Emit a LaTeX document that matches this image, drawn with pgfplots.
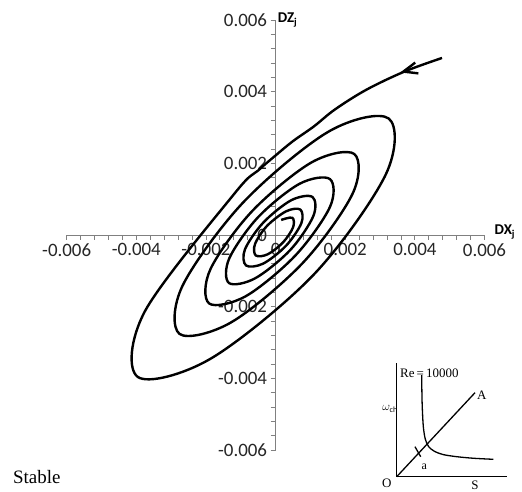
\documentclass[border=0pt]{standalone}
\usepackage{pgfplots}
\pgfplotsset{compat=1.18}
\usepackage{fontspec}
\setmainfont{Carlito}
\newfontfamily\serif{Liberation Serif}
\begin{document}
\begin{tikzpicture}[x=1bp,y=1bp]
\useasboundingbox (0,0) rectangle (522,492);
\begin{axis}[
  at={(66.7bp,42bp)}, anchor=south west,
  scale only axis, width=417.8bp, height=430bp,
  xmin=-0.006, xmax=0.006, ymin=-0.006, ymax=0.006,
  axis lines=middle,
  axis line style={-, draw=black!50, line width=0.8bp},
  xtick={-0.006,-0.004,-0.002,0,0.002,0.004,0.006},
  ytick={-0.006,-0.004,-0.002,0,0.002,0.004,0.006},
  xticklabels={-0.006,-0.004,-0.002,0,0.002,0.004,0.006},
  yticklabels={-0.006,-0.004,-0.002,0,0.002,0.004,0.006},
  minor x tick num=4, minor y tick num=4,
  tick align=outside,
  major tick length=5bp, minor tick length=5bp,
  tick style={draw=black!50, line width=0.8bp},
  hide obscured x ticks=false, hide obscured y ticks=false,
  scaled ticks=false,
  tick label style={font=\fontsize{19}{22}\selectfont, text=black!85},
  clip=false,
]
\addplot[line width=2.4bp, smooth, tension=0.55] coordinates {
(0.00478,0.00494)
(0.0037,0.00456)
(0.0026,0.00405)
(0.0017,0.0035)
(0.0011,0.00303)
(0.0005,0.00262)
(0.0000,0.00222)
(-0.0005,0.0018)
(-0.00117,0.00117)
(-0.00376,-0.00214)
(-0.00396,-0.00396)
(-0.00188,-0.00346)
(0.0011,-0.0011)
(0.00316,0.00168)
(0.00325,0.00325)
(0.00153,0.00289)
(-0.00092,0.00092)
(-0.00267,-0.00141)
(-0.00276,-0.00276)
(-0.00128,-0.00244)
(0.00078,-0.00078)
(0.00221,0.00115)
(0.00226,0.00226)
(0.00104,0.00203)
(-0.00067,0.00067)
(-0.00187,-0.00095)
(-0.00191,-0.00191)
(-0.00086,-0.00171)
(0.00057,-0.00057)
(0.00156,0.00078)
(0.00156,0.00156)
(0.00069,0.00143)
(-0.0005,0.0005)
(-0.00133,-0.00065)
(-0.00134,-0.00134)
(-0.00059,-0.00121)
(0.00042,-0.00042)
(0.00108,0.00052)
(0.00106,0.00106)
(0.00045,0.00097)
(-0.00035,0.00035)
(-0.00088,-0.0004)
(-0.00085,-0.00085)
(-0.00036,-0.0008)
(0.0003,-0.0003)
(0.00074,0.00033)
(0.00071,0.00071)
(0.0003,0.00066)
(-0.00025,0.00025)
(-0.00059,-0.00025)
(-0.00057,-0.00057)
(-0.00023,-0.00054)
(0.00021,-0.00021)
(0.0005,0.00021)
(0.00048,0.00048)
(0.00016,0.00042)
};
\addplot[line width=2.4bp] coordinates {(0.00401,0.00481) (0.00367,0.00456) (0.0041,0.00451)};
\node[anchor=base west, font=\fontsize{15}{18}\selectfont\bfseries, inner sep=0pt] at (axis cs:0.006,0) [xshift=10bp] {DX\textsubscript{j}};
\node[anchor=base west, font=\fontsize{15}{18}\selectfont\bfseries, inner sep=0pt] at (axis cs:0,0.006) [xshift=2bp, yshift=-3bp] {DZ\textsubscript{j}};
\end{axis}
\node[anchor=base west, font=\serif\fontsize{19}{22}\selectfont, inner sep=0pt] at (13,8.5) {Stable};
\begin{axis}[
  at={(396.7bp,15.3bp)}, anchor=south west,
  scale only axis, width=110bp, height=113.7bp,
  xmin=0, xmax=1, ymin=0, ymax=1,
  axis lines=left, axis line style={-, line width=1.1bp},
  ticks=none, clip=false,
]
\addplot[line width=1.3bp, smooth] coordinates {(0.227,0.894)(0.228,0.80)(0.232,0.62)(0.242,0.44)(0.26,0.33)(0.29,0.265)(0.34,0.225)(0.42,0.195)(0.545,0.176)(0.7,0.162)(0.878,0.153)};
\addplot[line width=1.3bp] coordinates {(0,0) (0.712,0.739)};
\addplot[line width=1.3bp] coordinates {(0.166,0.264) (0.218,0.176)};
\node[anchor=west, font=\serif\fontsize{13}{15}\selectfont, inner sep=0pt] at (axis cs:0.03,0.912) {Re\,=\,10000};
\node[font=\serif\fontsize{13}{15}\selectfont, inner sep=0pt] at (axis cs:0.773,0.719) {A};
\node[font=\fontsize{12}{14}\selectfont, inner sep=0pt] at (axis cs:-0.06,0.594) {$\omega_{\mathrm{ch}}$};
\node[font=\serif\fontsize{12}{14}\selectfont, inner sep=0pt] at (axis cs:0.251,0.088) {a};
\node[font=\serif\fontsize{13}{15}\selectfont, inner sep=0pt] at (axis cs:-0.091,-0.058) {O};
\node[font=\serif\fontsize{13}{15}\selectfont, inner sep=0pt] at (axis cs:0.712,-0.075) {S};
\end{axis}
\end{tikzpicture}
\end{document}
